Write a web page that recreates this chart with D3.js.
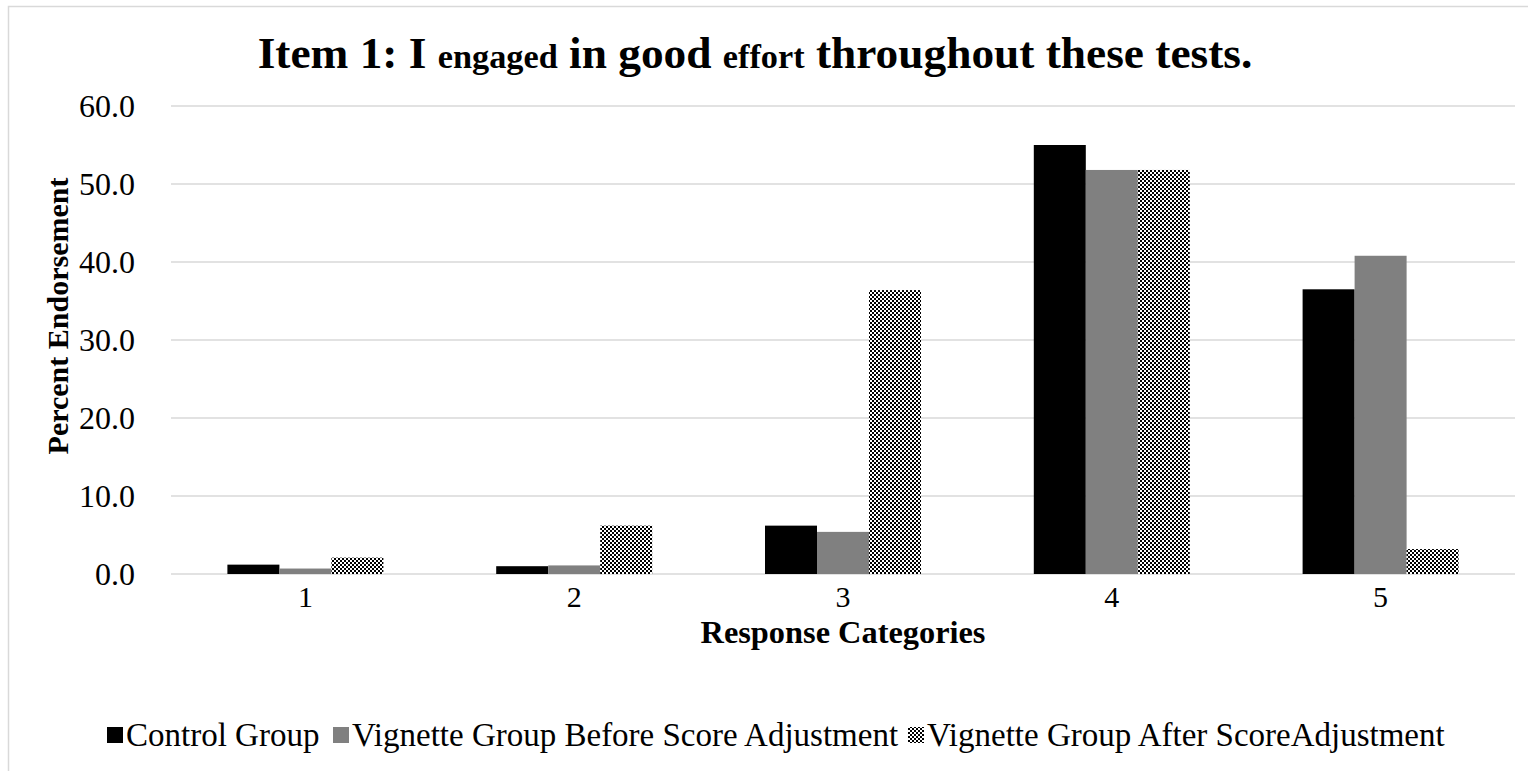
<!DOCTYPE html>
<html><head><meta charset="utf-8">
<script src="https://cdn.jsdelivr.net/npm/d3@7"></script>
<style>body{margin:0;background:#fff}svg{display:block}</style>
</head><body>
<script>
const categories = ["1","2","3","4","5"];
const seriesNames = ["Control Group","Vignette Group Before Score Adjustment","Vignette Group After ScoreAdjustment"];
const controlGroup = [1.2, 1.0, 6.2, 55.0, 36.5];
const vignetteBefore = [0.7, 1.1, 5.4, 51.8, 40.8];
const vignetteAfter = [2.1, 6.2, 36.4, 51.8, 3.2];
const yTicks = [0,10,20,30,40,50,60];

(function(){
const W = 1528, H = 771;
const serif = "'Liberation Serif','Times New Roman',serif";
const svg = d3.select("body").append("svg").attr("width",W).attr("height",H);
const defs = svg.append("defs");
const pat = defs.append("pattern").attr("id","checker").attr("patternUnits","userSpaceOnUse")
  .attr("width",4).attr("height",4);
pat.append("rect").attr("width",4).attr("height",4).attr("fill","#fff");
pat.append("rect").attr("x",0).attr("y",0).attr("width",2).attr("height",2).attr("fill","#000");
pat.append("rect").attr("x",2).attr("y",2).attr("width",2).attr("height",2).attr("fill","#000");

const fills = ["#000000","#808080","url(#checker)"];
const series = [controlGroup, vignetteBefore, vignetteAfter];
const stretch = (x, s) => `translate(${x},0) scale(${s},1) translate(${-x},0)`;

// chart border
svg.append("rect").attr("x",8.5).attr("y",6.5).attr("width",W).attr("height",H)
  .attr("fill","none").attr("stroke","#d9d9d9").attr("stroke-width",1.5);

const pL = 171, pR = 1515, pT = 106, pB = 574;
const x0 = d3.scaleBand().domain(categories).range([pL,pR]).paddingInner(0).paddingOuter(0);
const groupW = 156;
const x1 = d3.scaleBand().domain(d3.range(3)).range([0,groupW]);
const y = d3.scaleLinear().domain([0,60]).range([pB,pT]);

// gridlines
svg.append("g").selectAll("line").data(yTicks).join("line")
  .attr("x1",pL).attr("x2",pR).attr("y1",d=>y(d)).attr("y2",d=>y(d))
  .attr("stroke","#d9d9d9").attr("stroke-width",1.5);

// y axis labels
const yAxis = d3.axisLeft(y).tickValues(yTicks).tickFormat(d3.format(".1f")).tickSize(0).tickPadding(0);
const ya = svg.append("g").attr("transform",`translate(135,0)`).call(yAxis);
ya.select(".domain").remove();
ya.selectAll("text").attr("font-family",serif).attr("font-size",32).attr("fill","#000")
  .attr("dy","0.34em");

// bars
const g = svg.append("g");
categories.forEach((c,i)=>{
  const cx = x0(c) + x0.bandwidth()/2 - groupW/2;
  series.forEach((s,j)=>{
    g.append("rect").attr("x",cx + x1(j)).attr("width",x1.bandwidth())
      .attr("y",y(s[i])).attr("height",y(0)-y(s[i])).attr("fill",fills[j]);
  });
});

// x axis labels
const xAxis = d3.axisBottom(x0).tickSize(0).tickPadding(0);
const xa = svg.append("g").attr("transform",`translate(0,${pB+33})`).call(xAxis);
xa.select(".domain").remove();
xa.selectAll("text").attr("font-family",serif).attr("font-size",30).attr("fill","#000")
  .attr("dy","0").attr("y",0);

// title
const t = svg.append("text").attr("x",755).attr("y",68).attr("text-anchor","middle")
  .attr("font-family",serif).attr("font-weight","bold").attr("font-size",45);
t.append("tspan").text("Item 1: I ");
t.append("tspan").attr("font-size",34).text("engaged");
t.append("tspan").text(" in good ");
t.append("tspan").attr("font-size",34).text("effort");
t.append("tspan").text(" throughout these tests.");
const tw = t.node().getComputedTextLength();
t.attr("transform", stretch(755, 995/tw));

// axis titles
const rc = svg.append("text").attr("x",843).attr("y",643).attr("text-anchor","middle")
  .attr("font-family",serif).attr("font-weight","bold").attr("font-size",31)
  .text("Response Categories");
rc.attr("transform", stretch(843, 285/rc.node().getComputedTextLength()));
svg.append("text").attr("transform","translate(68,316) rotate(-90)").attr("text-anchor","middle")
  .attr("font-family",serif).attr("font-weight","bold").attr("font-size",30).text("Percent Endorsement");

// legend
const legX = [107, 333, 908];
const lg = svg.append("g");
seriesNames.forEach((n,j)=>{
  lg.append("rect").attr("x",legX[j]).attr("y",727).attr("width",16).attr("height",16).attr("fill",fills[j]);
  lg.append("text").attr("x",legX[j]+19).attr("y",746).attr("font-family",serif).attr("font-size",33)
    .text(n);
});
})();
</script>
</body></html>
